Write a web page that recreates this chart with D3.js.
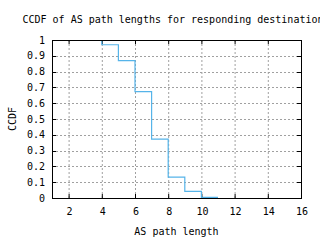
<!DOCTYPE html>
<html>
<head>
<meta charset="utf-8">
<script src="https://cdn.jsdelivr.net/npm/d3@7"></script>
<style>
  body { margin: 0; background: #fff; }
  text { font-family: "DejaVu Sans Mono", monospace; font-size: 10px; fill: #000; }
</style>
</head>
<body>
<div id="chart"></div>
<script>
// AS path length vs CCDF
var pathLengths = [4, 5, 6, 7, 8, 9, 10, 11]
var ccdfValues = [1, 0.97, 0.87, 0.673, 0.372, 0.132, 0.042, 0.004]
var xTicks = [2, 4, 6, 8, 10, 12, 14, 16]
var yTicks = [0, 0.1, 0.2, 0.3, 0.4, 0.5, 0.6, 0.7, 0.8, 0.9, 1]

var width = 320, height = 240
var margin = {left: 52, right: 19, top: 40, bottom: 42}

var svg = d3.select("#chart").append("svg")
    .attr("width", width)
    .attr("height", height)

var x = d3.scaleLinear().domain([1, 16]).range([margin.left, width - margin.right])
var y = d3.scaleLinear().domain([0, 1]).range([height - margin.bottom, margin.top])

// grid
svg.append("g").selectAll("line")
    .data(xTicks.filter(function(d) { return d < 16 }))
    .enter().append("line")
    .attr("x1", function(d) { return x(d) + 0.5 })
    .attr("x2", function(d) { return x(d) + 0.5 })
    .attr("y1", y(0)).attr("y2", y(1))
    .attr("stroke", "#a0a0a0")
    .attr("stroke-dasharray", "2,2")

svg.append("g").selectAll("line")
    .data(yTicks.filter(function(d) { return d > 0 && d < 1 }))
    .enter().append("line")
    .attr("x1", x(1)).attr("x2", x(16))
    .attr("y1", function(d) { return Math.round(y(d)) + 0.5 })
    .attr("y2", function(d) { return Math.round(y(d)) + 0.5 })
    .attr("stroke", "#a0a0a0")
    .attr("stroke-dasharray", "2,2")

// inner tick marks (gnuplot style, mirrored)
var tickLen = 4
svg.append("g").selectAll("line")
    .data(yTicks)
    .enter().append("line")
    .attr("x1", x(16) - tickLen).attr("x2", x(16))
    .attr("y1", function(d) { return Math.round(y(d)) + 0.5 })
    .attr("y2", function(d) { return Math.round(y(d)) + 0.5 })
    .attr("stroke", "#000")

svg.append("g").selectAll("line")
    .data(yTicks)
    .enter().append("line")
    .attr("x1", x(1)).attr("x2", x(1) + tickLen)
    .attr("y1", function(d) { return Math.round(y(d)) + 0.5 })
    .attr("y2", function(d) { return Math.round(y(d)) + 0.5 })
    .attr("stroke", "#000")

svg.append("g").selectAll("line")
    .data(xTicks)
    .enter().append("line")
    .attr("x1", function(d) { return x(d) + 0.5 })
    .attr("x2", function(d) { return x(d) + 0.5 })
    .attr("y1", y(0)).attr("y2", y(0) - tickLen)
    .attr("stroke", "#000")

svg.append("g").selectAll("line")
    .data(xTicks)
    .enter().append("line")
    .attr("x1", function(d) { return x(d) + 0.5 })
    .attr("x2", function(d) { return x(d) + 0.5 })
    .attr("y1", y(1)).attr("y2", y(1) + tickLen)
    .attr("stroke", "#000")

// the ccdf step line
var line = d3.line()
    .x(function(d, i) { return x(pathLengths[i]) })
    .y(function(d) { return y(d) })
    .curve(d3.curveStepBefore)

svg.append("path")
    .datum(ccdfValues)
    .attr("d", line)
    .attr("fill", "none")
    .attr("stroke", "#56b4e9")
    .attr("stroke-width", 1.2)

// border
svg.append("rect")
    .attr("x", x(1) + 0.5).attr("y", y(1) + 0.5)
    .attr("width", x(16) - x(1)).attr("height", y(0) - y(1))
    .attr("fill", "none")
    .attr("stroke", "#000")

// tick labels
svg.append("g").selectAll("text")
    .data(yTicks)
    .enter().append("text")
    .attr("x", x(1) - 7)
    .attr("y", function(d) { return y(d) + 3.5 })
    .attr("text-anchor", "end")
    .text(function(d) { return d3.format("")(d) })

svg.append("g").selectAll("text")
    .data(xTicks)
    .enter().append("text")
    .attr("x", function(d) { return x(d) + 1 })
    .attr("y", y(0) + 17)
    .attr("text-anchor", "middle")
    .text(function(d) { return d })

// titles
svg.append("text")
    .attr("x", 176)
    .attr("y", 23)
    .attr("text-anchor", "middle")
    .text("CCDF of AS path lengths for responding destinations")

svg.append("text")
    .attr("x", (x(1) + x(16)) / 2)
    .attr("y", 235)
    .attr("text-anchor", "middle")
    .text("AS path length")

svg.append("text")
    .attr("transform", "translate(16," + (y(0) + y(1)) / 2 + ")rotate(-90)")
    .attr("text-anchor", "middle")
    .text("CCDF")
</script>
</body>
</html>
